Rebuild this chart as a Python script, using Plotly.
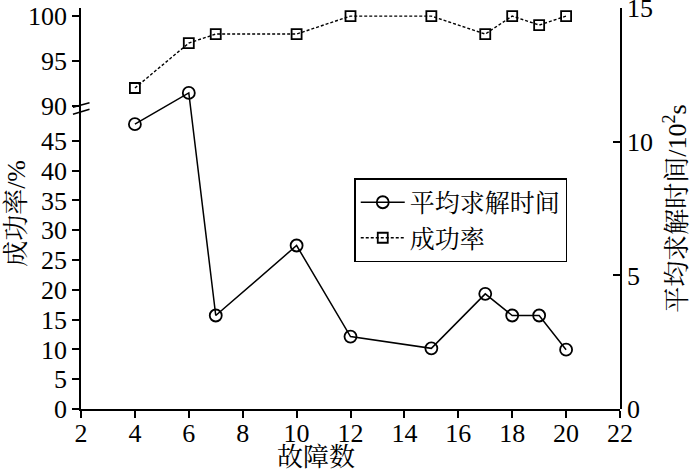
import plotly.graph_objects as go

faults = [4, 6, 7, 10, 12, 15, 17, 18, 19, 20]
avg_time = [10.66, 11.83, 3.50, 6.12, 2.71, 2.27, 4.31, 3.50, 3.50, 2.22]  # 10^2 s
success = [92, 97, 98, 98, 100, 100, 98, 100, 99, 100]  # %

x_ticks = list(range(2, 23, 2))
low_ticks = list(range(0, 46, 5))
high_ticks = [90, 95, 100]
right_ticks = [0, 5, 10, 15]

FONT = "Liberation Serif, Noto Serif CJK SC, Noto Sans CJK SC, serif"
FS = 26
BREAK = 0.7556

fig = go.Figure()
# invisible anchor trace so the lower-left axis subplot exists
fig.add_trace(go.Scatter(x=[3], y=[1], xaxis="x", yaxis="y", mode="markers",
                         marker=dict(opacity=0), showlegend=False, hoverinfo="skip"))
fig.add_trace(go.Scatter(
    x=faults, y=avg_time, name="平均求解时间", xaxis="x", yaxis="y3",
    mode="lines+markers",
    line=dict(color="black", width=1.5),
    marker=dict(symbol="circle-open", size=12, color="black", line=dict(width=1.8)),
))
fig.add_trace(go.Scatter(
    x=faults, y=success, name="成功率", xaxis="x", yaxis="y2",
    mode="lines+markers",
    line=dict(color="black", width=1.4, dash="3px,2px"),
    marker=dict(symbol="square-open", size=10, color="black", line=dict(width=1.8)),
))

def ax(**kw):
    d = dict(showline=True, linecolor="black", linewidth=1.5, ticks="outside",
             ticklen=7, tickwidth=1.5, tickcolor="black", showgrid=False,
             zeroline=False, automargin=False, ticklabeloverflow="allow",
             tickfont=dict(family=FONT, size=FS, color="black"))
    d.update(kw)
    return d

fig.update_layout(
    width=700, height=470,
    margin=dict(l=81, r=80, t=8, b=61),
    paper_bgcolor="white", plot_bgcolor="rgba(0,0,0,0)",
    font=dict(family=FONT, color="black"),
    xaxis=ax(range=[2, 22], tickvals=x_ticks, anchor="y", domain=[0, 1], ticklabelstandoff=-7),
    yaxis=ax(range=[0, 50.84], tickvals=low_ticks, domain=[0, BREAK], anchor="x"),
    yaxis2=ax(range=[90, 100.9], tickvals=high_ticks, domain=[BREAK, 1], anchor="x"),
    yaxis3=ax(range=[0, 15.01], tickvals=right_ticks, domain=[0, 1], anchor="x", side="right",
              ticks="inside",
              title=dict(text="平均求解时间/10<sup>2</sup>s",
                         font=dict(family=FONT, size=FS, color="black"), standoff=16)),
    showlegend=True,
    legend=dict(x=(354 - 81) / 538.5, y=(409 - 178) / 401, xanchor="left", yanchor="top",
                bgcolor="white", bordercolor="black", borderwidth=1.5,
                font=dict(family=FONT, size=FS - 1, color="black"),
                tracegroupgap=0, itemwidth=44, entrywidth=218, entrywidthmode="pixels"),
    annotations=[
        dict(text="成功率/%", xref="paper", yref="paper", x=(17 - 81) / 538.5, y=0.489,
             xanchor="center", yanchor="middle",
             textangle=-90, showarrow=False, font=dict(family=FONT, size=FS, color="black")),
        dict(text="故障数", xref="paper", yref="paper", x=(316 - 81) / 538.5, y=(409 - 457) / 401,
             xanchor="center", yanchor="middle",
             showarrow=False, font=dict(family=FONT, size=FS, color="black")),
    ],
    shapes=[
        dict(type="line", xref="paper", yref="paper", x0=-0.0149, x1=0.0158, y0=0.7349, y1=0.7474,
             line=dict(color="black", width=1.5), layer="above"),
        dict(type="line", xref="paper", yref="paper", x0=-0.0149, x1=0.0158, y0=0.7524, y1=0.7638,
             line=dict(color="black", width=1.5), layer="above"),
    ],
)

fig.write_html("out.html", config={"displayModeBar": False},
               post_script="document.body.style.margin='0';")
